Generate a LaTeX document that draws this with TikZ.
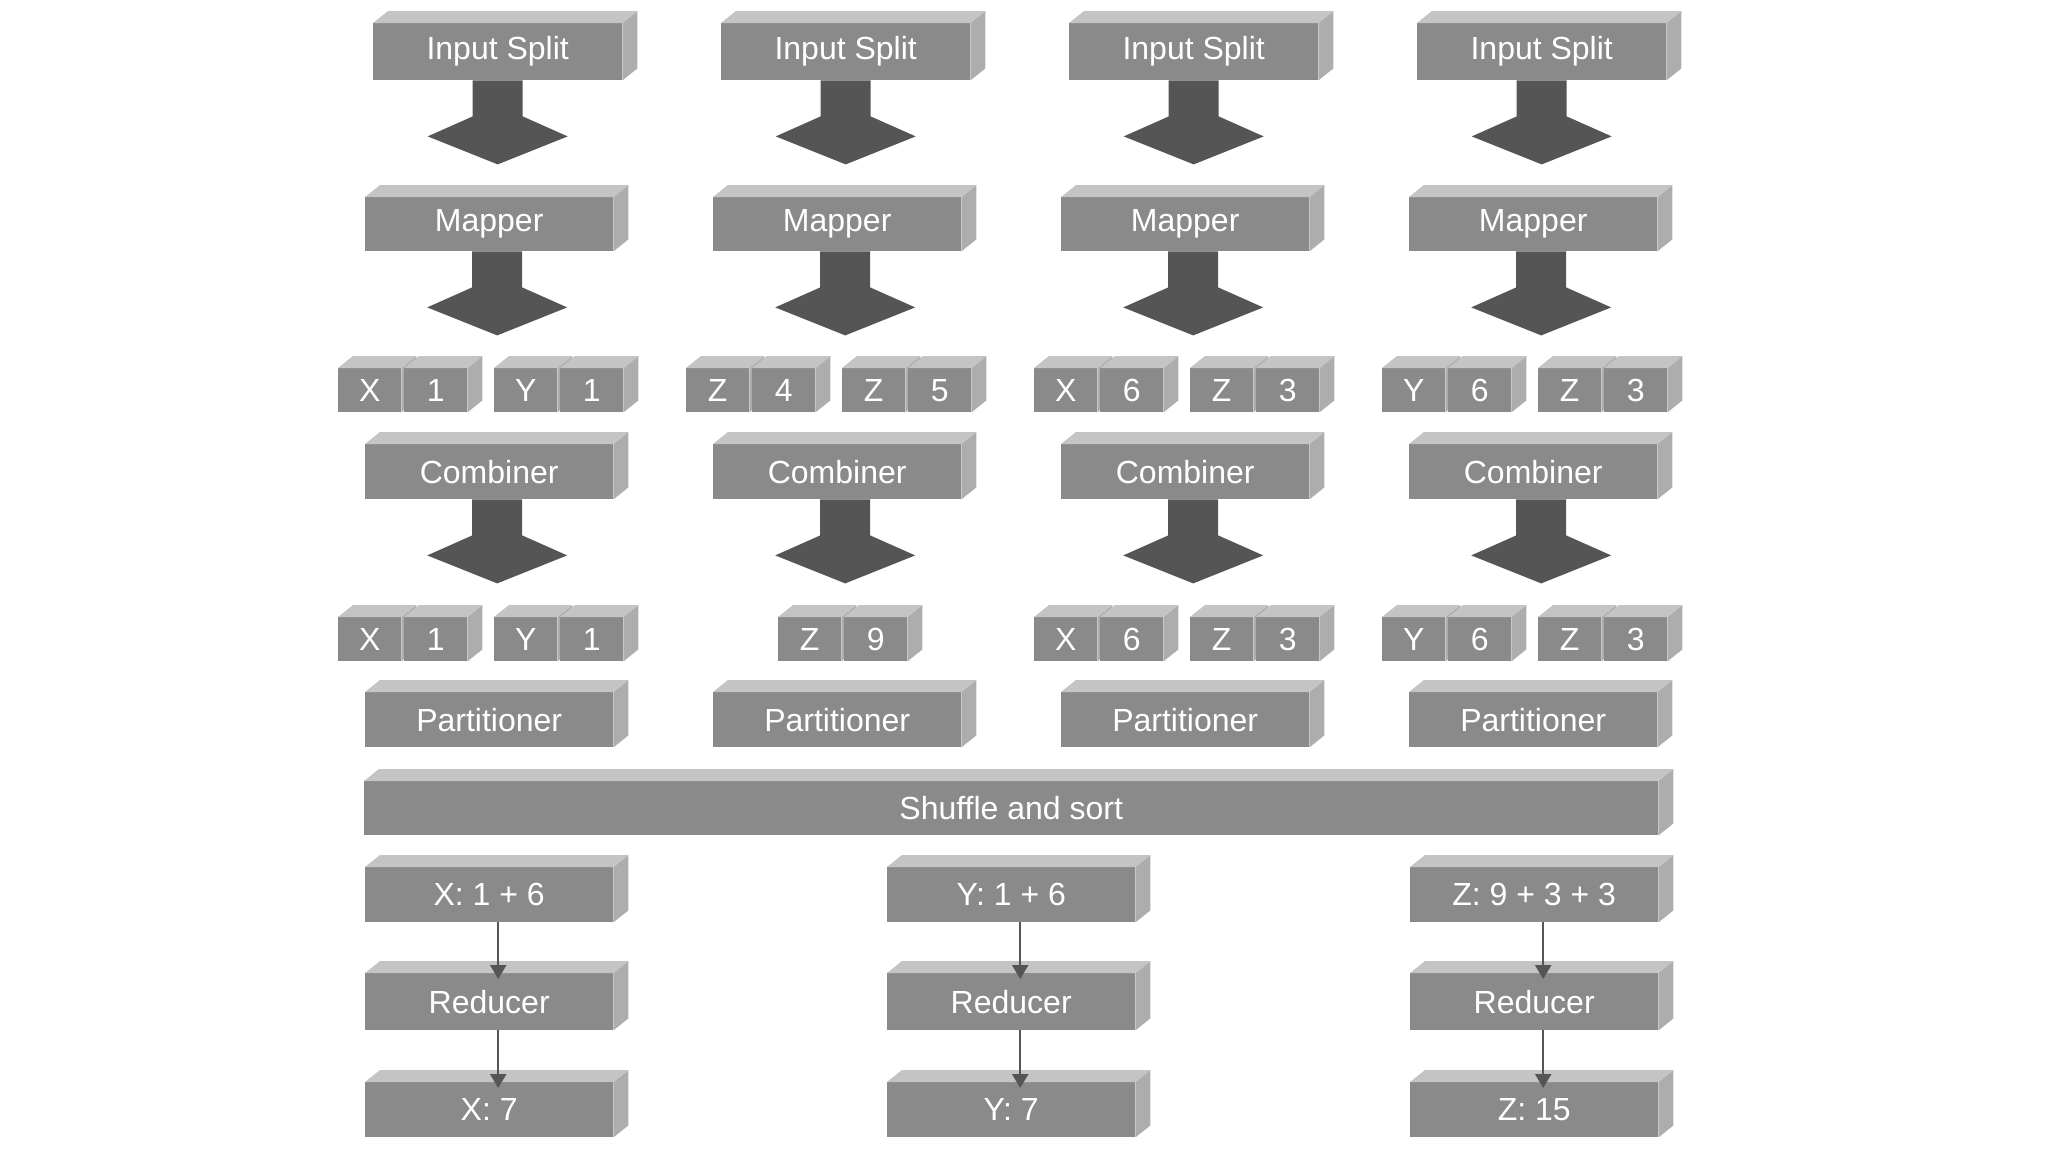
\documentclass[tikz,border=0pt]{standalone}
\usepackage{fontspec}
\setmainfont{Liberation Sans}
\usetikzlibrary{arrows.meta}
\definecolor{frontc}{HTML}{8A8A8A}
\definecolor{topc}{HTML}{C4C4C4}
\definecolor{sidec}{HTML}{ADADAD}
\definecolor{arrc}{HTML}{555555}
\tikzset{face/.style={fill=frontc,text=white,inner sep=0pt,font=\fontsize{32}{36}\selectfont},
 bigarrow/.style={fill=arrc},
 thin arrow/.style={draw=arrc,line width=2.5pt,-{Triangle[length=14pt,width=16pt]}}}
\newcommand\blk[6]{%
 \node[face,minimum width=#4pt,minimum height=#5pt,anchor=north west] (#1) at (#2,#3) {#6};
 \fill[sidec] (#1.north east)--++(15,-12)--([shift={(15,-12)}]#1.south east)--(#1.south east)--cycle;
 \fill[topc] (#1.north west)--++(15,-12)--([shift={(15,-12)}]#1.north east)--(#1.north east)--cycle;}
\newcommand\bigarr[2]{%
 \fill[bigarrow] ([xshift=#2pt-25pt]#1)--++(50,0)--++(0,36)--++(45,20)--++(-70,28)--++(-70,-28)--++(45,-20)--cycle;}
\begin{document}
\begin{tikzpicture}[x=1pt,y=-1pt]
\fill[white] (0,0) rectangle (2048,1152);
\foreach \c/\ka/\va/\kb/\vb/\kc/\vc/\kd/\vd in {0/X/1/Y/1/X/1/Y/1, 1/Z/4/Z/5/Z/9/-/-, 2/X/6/Z/3/X/6/Z/3, 3/Y/6/Z/3/Y/6/Z/3}{
 \pgfmathsetmacro\dx{348*\c}
 \blk{is\c}{373+\dx}{23}{249}{57}{Input Split}
 \blk{m\c}{365+\dx}{197}{248}{54}{Mapper}
 \bigarr{is\c.south}{0}
 \bigarr{m\c.south}{8}
 \blk{ka\c}{338+\dx}{368}{63}{44}{\ka}
 \blk{va\c}{404+\dx}{368}{63}{44}{\va}
 \blk{kb\c}{494+\dx}{368}{63}{44}{\kb}
 \blk{vb\c}{560+\dx}{368}{63}{44}{\vb}
 \blk{cb\c}{365+\dx}{444}{248}{55}{Combiner}
 \bigarr{cb\c.south}{8}
 \ifnum\c=1
  \blk{kc\c}{778}{617}{63}{44}{\kc}
  \blk{vc\c}{844}{617}{63}{44}{\vc}
 \else
  \blk{kc\c}{338+\dx}{617}{63}{44}{\kc}
  \blk{vc\c}{404+\dx}{617}{63}{44}{\vc}
  \blk{kd\c}{494+\dx}{617}{63}{44}{\kd}
  \blk{vd\c}{560+\dx}{617}{63}{44}{\vd}
 \fi
 \blk{p\c}{365+\dx}{692}{248}{55}{Partitioner}
}
\blk{sh}{364}{781}{1294}{54}{Shuffle and sort}
\foreach \n/\x/\a/\b in {x/365/{X: 1 + 6}/{X: 7}, y/887/{Y: 1 + 6}/{Y: 7}, z/1410/{Z: 9 + 3 + 3}/{Z: 15}}{
 \blk{\n in}{\x}{867}{248}{55}{\a}
 \blk{\n r}{\x}{973}{248}{57}{Reducer}
 \blk{\n out}{\x}{1082}{248}{55}{\b}
 \draw[thin arrow] ([xshift=9pt]\n in.south) -- ([xshift=9pt,yshift=-6pt]\n r.north);
 \draw[thin arrow] ([xshift=9pt]\n r.south) -- ([xshift=9pt,yshift=-6pt]\n out.north);
}
\end{tikzpicture}
\end{document}
